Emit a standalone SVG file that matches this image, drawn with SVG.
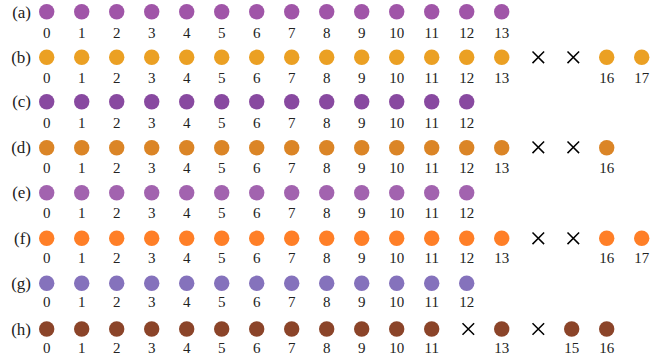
<svg xmlns="http://www.w3.org/2000/svg" width="666" height="358" viewBox="0 0 666 358">
<rect width="666" height="358" fill="#fff"/>
<g id="row-labels">
<text x="31" y="17.5" font-family="Liberation Serif" font-size="17" text-anchor="end" fill="#222">(a)</text>
<text x="31" y="63" font-family="Liberation Serif" font-size="17" text-anchor="end" fill="#222">(b)</text>
<text x="31" y="107.2" font-family="Liberation Serif" font-size="17" text-anchor="end" fill="#222">(c)</text>
<text x="31" y="153.2" font-family="Liberation Serif" font-size="17" text-anchor="end" fill="#222">(d)</text>
<text x="31" y="198.2" font-family="Liberation Serif" font-size="17" text-anchor="end" fill="#222">(e)</text>
<text x="31" y="243.8" font-family="Liberation Serif" font-size="17" text-anchor="end" fill="#222">(f)</text>
<text x="31" y="288.8" font-family="Liberation Serif" font-size="17" text-anchor="end" fill="#222">(g)</text>
<text x="31" y="334.5" font-family="Liberation Serif" font-size="17" text-anchor="end" fill="#222">(h)</text>
</g>
<g id="row-a">
<g fill="#A055A8"><circle cx="46.7" cy="11.7" r="7.7"/><circle cx="81.7" cy="11.7" r="7.7"/><circle cx="116.7" cy="11.7" r="7.7"/><circle cx="151.7" cy="11.7" r="7.7"/><circle cx="186.7" cy="11.7" r="7.7"/><circle cx="221.7" cy="11.7" r="7.7"/><circle cx="256.7" cy="11.7" r="7.7"/><circle cx="291.7" cy="11.7" r="7.7"/><circle cx="326.7" cy="11.7" r="7.7"/><circle cx="361.7" cy="11.7" r="7.7"/><circle cx="396.7" cy="11.7" r="7.7"/><circle cx="431.7" cy="11.7" r="7.7"/><circle cx="466.7" cy="11.7" r="7.7"/><circle cx="501.7" cy="11.7" r="7.7"/></g>
<text y="38.3" font-family="Liberation Serif" font-size="15" text-anchor="middle" fill="#222"><tspan x="46.7">0</tspan><tspan x="81.7">1</tspan><tspan x="116.7">2</tspan><tspan x="151.7">3</tspan><tspan x="186.7">4</tspan><tspan x="221.7">5</tspan><tspan x="256.7">6</tspan><tspan x="291.7">7</tspan><tspan x="326.7">8</tspan><tspan x="361.7">9</tspan><tspan x="396.7">10</tspan><tspan x="431.7">11</tspan><tspan x="466.7">12</tspan><tspan x="501.7">13</tspan></text>
</g>
<g id="row-b">
<g fill="#EBA023"><circle cx="46.7" cy="57.3" r="7.7"/><circle cx="81.7" cy="57.3" r="7.7"/><circle cx="116.7" cy="57.3" r="7.7"/><circle cx="151.7" cy="57.3" r="7.7"/><circle cx="186.7" cy="57.3" r="7.7"/><circle cx="221.7" cy="57.3" r="7.7"/><circle cx="256.7" cy="57.3" r="7.7"/><circle cx="291.7" cy="57.3" r="7.7"/><circle cx="326.7" cy="57.3" r="7.7"/><circle cx="361.7" cy="57.3" r="7.7"/><circle cx="396.7" cy="57.3" r="7.7"/><circle cx="431.7" cy="57.3" r="7.7"/><circle cx="466.7" cy="57.3" r="7.7"/><circle cx="501.7" cy="57.3" r="7.7"/><circle cx="606.7" cy="57.3" r="7.7"/><circle cx="641.7" cy="57.3" r="7.7"/></g>
<path stroke="#000" stroke-width="1.5" fill="none" d="M532.5 51.5l11.6 11.6M544.1 51.5l-11.6 11.6M567.5 51.5l11.6 11.6M579.1 51.5l-11.6 11.6"/>
<text y="82.7" font-family="Liberation Serif" font-size="15" text-anchor="middle" fill="#222"><tspan x="46.7">0</tspan><tspan x="81.7">1</tspan><tspan x="116.7">2</tspan><tspan x="151.7">3</tspan><tspan x="186.7">4</tspan><tspan x="221.7">5</tspan><tspan x="256.7">6</tspan><tspan x="291.7">7</tspan><tspan x="326.7">8</tspan><tspan x="361.7">9</tspan><tspan x="396.7">10</tspan><tspan x="431.7">11</tspan><tspan x="466.7">12</tspan><tspan x="501.7">13</tspan><tspan x="606.7">16</tspan><tspan x="641.7">17</tspan></text>
</g>
<g id="row-c">
<g fill="#8849A0"><circle cx="46.7" cy="101.7" r="7.7"/><circle cx="81.7" cy="101.7" r="7.7"/><circle cx="116.7" cy="101.7" r="7.7"/><circle cx="151.7" cy="101.7" r="7.7"/><circle cx="186.7" cy="101.7" r="7.7"/><circle cx="221.7" cy="101.7" r="7.7"/><circle cx="256.7" cy="101.7" r="7.7"/><circle cx="291.7" cy="101.7" r="7.7"/><circle cx="326.7" cy="101.7" r="7.7"/><circle cx="361.7" cy="101.7" r="7.7"/><circle cx="396.7" cy="101.7" r="7.7"/><circle cx="431.7" cy="101.7" r="7.7"/><circle cx="466.7" cy="101.7" r="7.7"/></g>
<text y="128.3" font-family="Liberation Serif" font-size="15" text-anchor="middle" fill="#222"><tspan x="46.7">0</tspan><tspan x="81.7">1</tspan><tspan x="116.7">2</tspan><tspan x="151.7">3</tspan><tspan x="186.7">4</tspan><tspan x="221.7">5</tspan><tspan x="256.7">6</tspan><tspan x="291.7">7</tspan><tspan x="326.7">8</tspan><tspan x="361.7">9</tspan><tspan x="396.7">10</tspan><tspan x="431.7">11</tspan><tspan x="466.7">12</tspan></text>
</g>
<g id="row-d">
<g fill="#DB8526"><circle cx="46.7" cy="147.7" r="7.7"/><circle cx="81.7" cy="147.7" r="7.7"/><circle cx="116.7" cy="147.7" r="7.7"/><circle cx="151.7" cy="147.7" r="7.7"/><circle cx="186.7" cy="147.7" r="7.7"/><circle cx="221.7" cy="147.7" r="7.7"/><circle cx="256.7" cy="147.7" r="7.7"/><circle cx="291.7" cy="147.7" r="7.7"/><circle cx="326.7" cy="147.7" r="7.7"/><circle cx="361.7" cy="147.7" r="7.7"/><circle cx="396.7" cy="147.7" r="7.7"/><circle cx="431.7" cy="147.7" r="7.7"/><circle cx="466.7" cy="147.7" r="7.7"/><circle cx="501.7" cy="147.7" r="7.7"/><circle cx="606.7" cy="147.7" r="7.7"/></g>
<path stroke="#000" stroke-width="1.5" fill="none" d="M532.5 141.5l11.6 11.6M544.1 141.5l-11.6 11.6M567.5 141.5l11.6 11.6M579.1 141.5l-11.6 11.6"/>
<text y="172.5" font-family="Liberation Serif" font-size="15" text-anchor="middle" fill="#222"><tspan x="46.7">0</tspan><tspan x="81.7">1</tspan><tspan x="116.7">2</tspan><tspan x="151.7">3</tspan><tspan x="186.7">4</tspan><tspan x="221.7">5</tspan><tspan x="256.7">6</tspan><tspan x="291.7">7</tspan><tspan x="326.7">8</tspan><tspan x="361.7">9</tspan><tspan x="396.7">10</tspan><tspan x="431.7">11</tspan><tspan x="466.7">12</tspan><tspan x="501.7">13</tspan><tspan x="606.7">16</tspan></text>
</g>
<g id="row-e">
<g fill="#A263AF"><circle cx="46.7" cy="192.7" r="7.7"/><circle cx="81.7" cy="192.7" r="7.7"/><circle cx="116.7" cy="192.7" r="7.7"/><circle cx="151.7" cy="192.7" r="7.7"/><circle cx="186.7" cy="192.7" r="7.7"/><circle cx="221.7" cy="192.7" r="7.7"/><circle cx="256.7" cy="192.7" r="7.7"/><circle cx="291.7" cy="192.7" r="7.7"/><circle cx="326.7" cy="192.7" r="7.7"/><circle cx="361.7" cy="192.7" r="7.7"/><circle cx="396.7" cy="192.7" r="7.7"/><circle cx="431.7" cy="192.7" r="7.7"/><circle cx="466.7" cy="192.7" r="7.7"/></g>
<text y="217.7" font-family="Liberation Serif" font-size="15" text-anchor="middle" fill="#222"><tspan x="46.7">0</tspan><tspan x="81.7">1</tspan><tspan x="116.7">2</tspan><tspan x="151.7">3</tspan><tspan x="186.7">4</tspan><tspan x="221.7">5</tspan><tspan x="256.7">6</tspan><tspan x="291.7">7</tspan><tspan x="326.7">8</tspan><tspan x="361.7">9</tspan><tspan x="396.7">10</tspan><tspan x="431.7">11</tspan><tspan x="466.7">12</tspan></text>
</g>
<g id="row-f">
<g fill="#FF7F27"><circle cx="46.7" cy="238.3" r="7.7"/><circle cx="81.7" cy="238.3" r="7.7"/><circle cx="116.7" cy="238.3" r="7.7"/><circle cx="151.7" cy="238.3" r="7.7"/><circle cx="186.7" cy="238.3" r="7.7"/><circle cx="221.7" cy="238.3" r="7.7"/><circle cx="256.7" cy="238.3" r="7.7"/><circle cx="291.7" cy="238.3" r="7.7"/><circle cx="326.7" cy="238.3" r="7.7"/><circle cx="361.7" cy="238.3" r="7.7"/><circle cx="396.7" cy="238.3" r="7.7"/><circle cx="431.7" cy="238.3" r="7.7"/><circle cx="466.7" cy="238.3" r="7.7"/><circle cx="501.7" cy="238.3" r="7.7"/><circle cx="606.7" cy="238.3" r="7.7"/><circle cx="641.7" cy="238.3" r="7.7"/></g>
<path stroke="#000" stroke-width="1.5" fill="none" d="M532.5 232.5l11.6 11.6M544.1 232.5l-11.6 11.6M567.5 232.5l11.6 11.6M579.1 232.5l-11.6 11.6"/>
<text y="262.7" font-family="Liberation Serif" font-size="15" text-anchor="middle" fill="#222"><tspan x="46.7">0</tspan><tspan x="81.7">1</tspan><tspan x="116.7">2</tspan><tspan x="151.7">3</tspan><tspan x="186.7">4</tspan><tspan x="221.7">5</tspan><tspan x="256.7">6</tspan><tspan x="291.7">7</tspan><tspan x="326.7">8</tspan><tspan x="361.7">9</tspan><tspan x="396.7">10</tspan><tspan x="431.7">11</tspan><tspan x="466.7">12</tspan><tspan x="501.7">13</tspan><tspan x="606.7">16</tspan><tspan x="641.7">17</tspan></text>
</g>
<g id="row-g">
<g fill="#8572BC"><circle cx="46.7" cy="283.3" r="7.7"/><circle cx="81.7" cy="283.3" r="7.7"/><circle cx="116.7" cy="283.3" r="7.7"/><circle cx="151.7" cy="283.3" r="7.7"/><circle cx="186.7" cy="283.3" r="7.7"/><circle cx="221.7" cy="283.3" r="7.7"/><circle cx="256.7" cy="283.3" r="7.7"/><circle cx="291.7" cy="283.3" r="7.7"/><circle cx="326.7" cy="283.3" r="7.7"/><circle cx="361.7" cy="283.3" r="7.7"/><circle cx="396.7" cy="283.3" r="7.7"/><circle cx="431.7" cy="283.3" r="7.7"/><circle cx="466.7" cy="283.3" r="7.7"/></g>
<text y="306.7" font-family="Liberation Serif" font-size="15" text-anchor="middle" fill="#222"><tspan x="46.7">0</tspan><tspan x="81.7">1</tspan><tspan x="116.7">2</tspan><tspan x="151.7">3</tspan><tspan x="186.7">4</tspan><tspan x="221.7">5</tspan><tspan x="256.7">6</tspan><tspan x="291.7">7</tspan><tspan x="326.7">8</tspan><tspan x="361.7">9</tspan><tspan x="396.7">10</tspan><tspan x="431.7">11</tspan><tspan x="466.7">12</tspan></text>
</g>
<g id="row-h">
<g fill="#8B4429"><circle cx="46.7" cy="329" r="7.7"/><circle cx="81.7" cy="329" r="7.7"/><circle cx="116.7" cy="329" r="7.7"/><circle cx="151.7" cy="329" r="7.7"/><circle cx="186.7" cy="329" r="7.7"/><circle cx="221.7" cy="329" r="7.7"/><circle cx="256.7" cy="329" r="7.7"/><circle cx="291.7" cy="329" r="7.7"/><circle cx="326.7" cy="329" r="7.7"/><circle cx="361.7" cy="329" r="7.7"/><circle cx="396.7" cy="329" r="7.7"/><circle cx="431.7" cy="329" r="7.7"/><circle cx="501.7" cy="329" r="7.7"/><circle cx="571.7" cy="329" r="7.7"/><circle cx="606.7" cy="329" r="7.7"/></g>
<path stroke="#000" stroke-width="1.5" fill="none" d="M462.5 323.2l11.6 11.6M474.1 323.2l-11.6 11.6M532.5 323.2l11.6 11.6M544.1 323.2l-11.6 11.6"/>
<text y="352.5" font-family="Liberation Serif" font-size="15" text-anchor="middle" fill="#222"><tspan x="46.7">0</tspan><tspan x="81.7">1</tspan><tspan x="116.7">2</tspan><tspan x="151.7">3</tspan><tspan x="186.7">4</tspan><tspan x="221.7">5</tspan><tspan x="256.7">6</tspan><tspan x="291.7">7</tspan><tspan x="326.7">8</tspan><tspan x="361.7">9</tspan><tspan x="396.7">10</tspan><tspan x="431.7">11</tspan><tspan x="501.7">13</tspan><tspan x="571.7">15</tspan><tspan x="606.7">16</tspan></text>
</g>
</svg>
